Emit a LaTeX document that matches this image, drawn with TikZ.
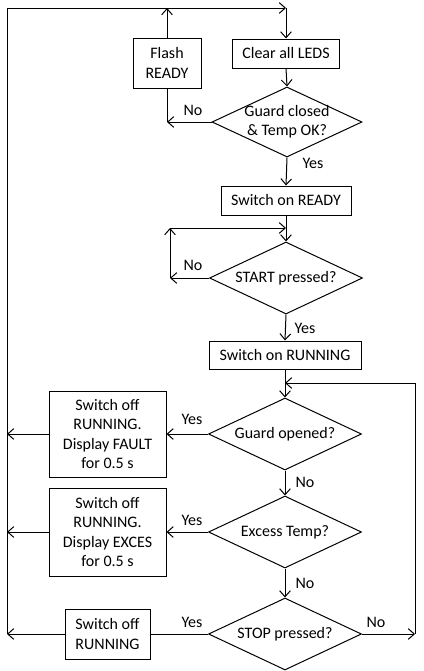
\documentclass[tikz,border=0pt]{standalone}
\usepackage{fontspec}
\setmainfont{Carlito}
\usetikzlibrary{arrows.meta,shapes.geometric}
\begin{document}
\begin{tikzpicture}[x=0.75pt,y=-0.75pt,
  line width=0.75pt,
  >={Straight Barb[length=4.5pt,width=8pt]},
  every node/.style={font=\fontsize{12}{14.4}\selectfont},
  box/.style={draw,rectangle,align=center,inner sep=0pt},
  decision/.style={draw,diamond,inner sep=0pt,minimum width=114.75pt,minimum height=54pt},
  dtext/.style={align=center,font=\fontsize{12}{14.4}\selectfont},
  lbl/.style={inner sep=0pt}]
\useasboundingbox (0,0) rectangle (424,671);
% boxes
\node[box,minimum width=51pt,minimum height=37.5pt] (flash) at (167,63) {Flash\\READY};
\node[box,minimum width=80.25pt,minimum height=21.75pt] (clear) at (286,53.5) {Clear all LEDS};
\node[decision,minimum width=112.5pt,minimum height=52.5pt,label={[dtext]center:Guard closed\\\& Temp OK?}] (g1) at (287,122) {};
\node[box,minimum width=97.5pt,minimum height=21.75pt] (ready) at (286,200.5) {Switch on READY};
\node[decision,label={[dtext]center:START pressed?}] (start) at (286,278) {};
\node[box,minimum width=114pt,minimum height=21pt] (running) at (285,355) {Switch on RUNNING};
\node[decision,label={[dtext]center:Guard opened?}] (go) at (285,434) {};
\node[box,minimum width=87.75pt,minimum height=64.5pt] (fault) at (107.5,434) {Switch off\\RUNNING.\\Display FAULT\\for 0.5 s};
\node[decision,label={[dtext]center:Excess Temp?}] (ex) at (285,532) {};
\node[box,minimum width=87.75pt,minimum height=66pt] (exbox) at (107.5,532) {Switch off\\RUNNING.\\Display EXCES\\for 0.5 s};
\node[decision,label={[dtext]center:STOP pressed?}] (stop) at (285,634) {};
\node[box,minimum width=63.75pt,minimum height=37.5pt] (stopbox) at (107.5,634) {Switch off\\RUNNING};
% coordinates
\coordinate (tl) at (7,8);
\coordinate (tr) at (286,8);
\coordinate (g1no) at (167,122);
\coordinate (sno) at (170,278);
\coordinate (sup1) at (170,228);
\coordinate (sin) at (286,228);
\coordinate (ls) at (7,634);
\coordinate (rb) at (415,634);
\coordinate (rt) at (415,383);
\coordinate (rin) at (285,383);
% connectors
\draw[->] (ls) -- (tl) -- (tr);
\draw[->] (tr) -- (clear.north);
\draw[->] (flash.north) -- (flash.north |- tl);
\draw[->] (clear.south) -- (g1.north);
\draw[->] (g1.west) -- (g1no);
\draw (g1no) -- (flash.south);
\draw[->] (g1.south) -- (ready.north);
\draw[->] (ready.south) -- (start.north);
\draw[->] (start.west) -- (sno);
\draw[->] (sno) -- (sup1);
\draw[->] (sup1) -- (sin);
\draw[->] (start.south) -- (running.north);
\draw[->] (running.south) -- (go.north);
\draw[->] (go.west) -- (fault.east);
\draw[->] (fault.west) -- (fault.west -| tl);
\draw[->] (go.south) -- (ex.north);
\draw[->] (ex.west) -- (exbox.east);
\draw[->] (exbox.west) -- (exbox.west -| tl);
\draw[->] (ex.south) -- (stop.north);
\draw (stop.west) -- (stopbox.east);
\draw[->] (stopbox.west) -- (ls);
\draw[->] (stop.east) -- (rb);
\draw (rb) -- (rt);
\draw[->] (rt) -- (rin);
% labels
\node[lbl] (l1) at (193,110) {No};
\node[lbl] (l2) at (313,163) {Yes};
\node[lbl] (l3) at (193,265) {No};
\node[lbl] (l4) at (305,328) {Yes};
\node[lbl] (l5) at (192,419) {Yes};
\node[lbl] (l6) at (305,482) {No};
\node[lbl] (l7) at (192,520) {Yes};
\node[lbl] (l8) at (305,583) {No};
\node[lbl] (l9) at (192,622) {Yes};
\node[lbl] (l10) at (376,622) {No};
\end{tikzpicture}
\end{document}
